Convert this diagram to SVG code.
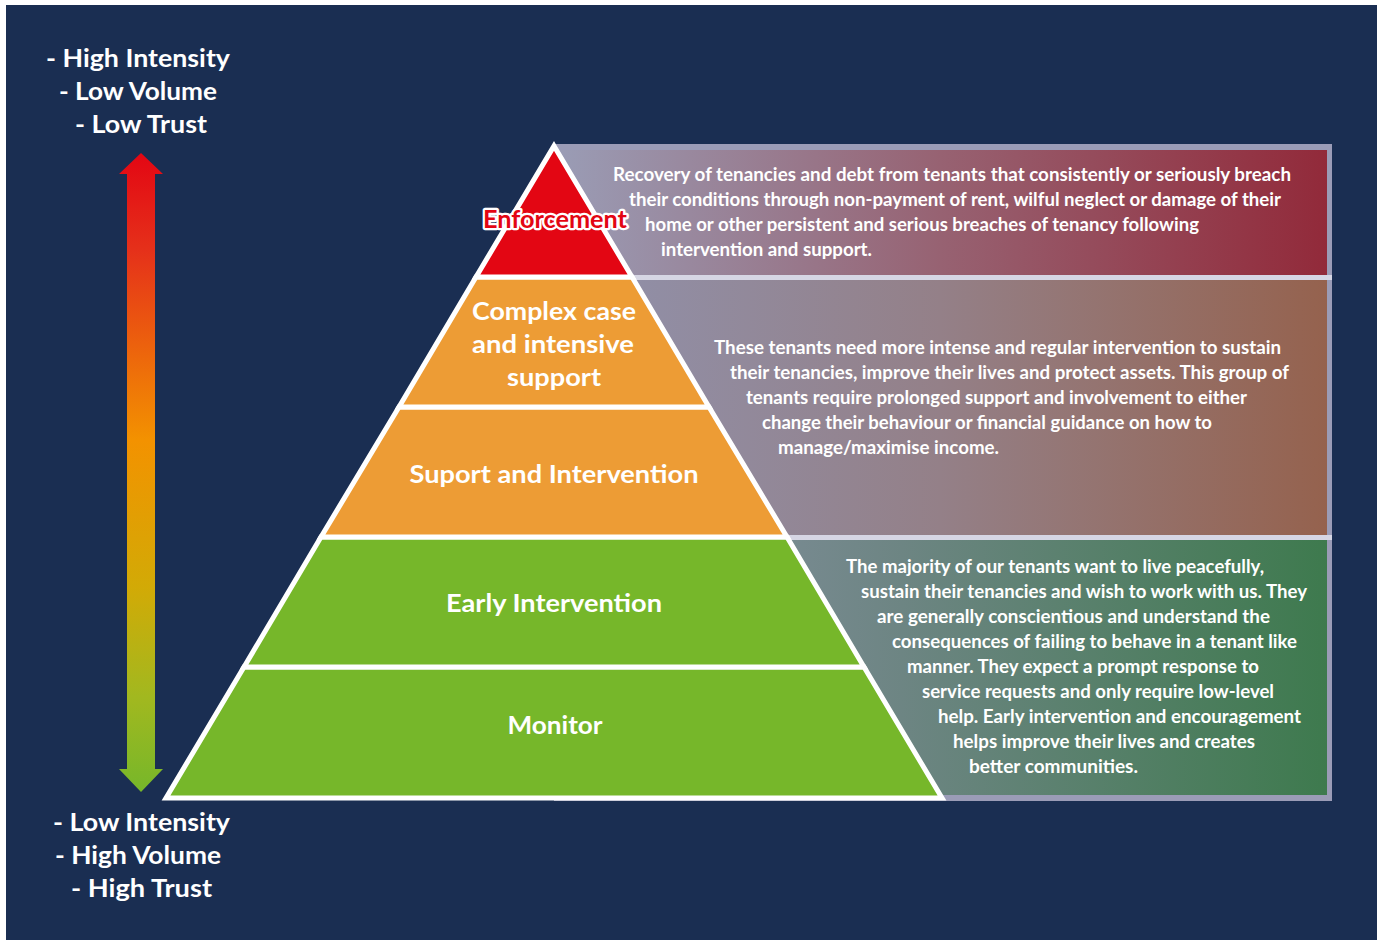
<svg xmlns="http://www.w3.org/2000/svg" width="1383" height="940" viewBox="0 0 1383 940">
  <defs>
    <linearGradient id="gArrow" gradientUnits="userSpaceOnUse" x1="0" y1="153" x2="0" y2="792">
      <stop offset="0" stop-color="#e30613"/>
      <stop offset="0.15" stop-color="#e5301a"/>
      <stop offset="0.45" stop-color="#f39200"/>
      <stop offset="0.68" stop-color="#d2aa06"/>
      <stop offset="0.85" stop-color="#a2b81f"/>
      <stop offset="1" stop-color="#76b72a"/>
    </linearGradient>
    <linearGradient id="gRed" gradientUnits="userSpaceOnUse" x1="554" y1="0" x2="1327" y2="0">
      <stop offset="0" stop-color="#9a9db6"/>
      <stop offset="0.5" stop-color="#976272"/>
      <stop offset="1" stop-color="#922a3a"/>
    </linearGradient>
    <linearGradient id="gOrange" gradientUnits="userSpaceOnUse" x1="554" y1="0" x2="1327" y2="0">
      <stop offset="0" stop-color="#9092ad"/>
      <stop offset="0.5" stop-color="#948088"/>
      <stop offset="1" stop-color="#95624e"/>
    </linearGradient>
    <linearGradient id="gGreen" gradientUnits="userSpaceOnUse" x1="554" y1="0" x2="1327" y2="0">
      <stop offset="0" stop-color="#8c93aa"/>
      <stop offset="0.45" stop-color="#6d8583"/>
      <stop offset="1" stop-color="#3e7a4e"/>
    </linearGradient>
    <style>
      .lbl { font-family: Lato, "Liberation Sans", sans-serif; font-weight: bold; fill: #ffffff; font-size: 25px; }
      .tier { stroke: #ffffff; stroke-width: 5; stroke-linejoin: miter; }
      .tl { font-family: Lato, "Liberation Sans", sans-serif; font-weight: bold; fill: #ffffff; font-size: 25px; text-anchor: middle; }
      .para { font-family: Lato, "Liberation Sans", sans-serif; font-weight: bold; fill: #ffffff; font-size: 18px; }
      .enf { font-family: Lato, "Liberation Sans", sans-serif; font-weight: bold; font-size: 24px; text-anchor: middle; }
    </style>
  </defs>

  <rect x="0" y="0" width="1383" height="940" fill="#ffffff"/>
  <rect id="background" x="6" y="5" width="1371" height="935" fill="#1a2e52"/>

  <g id="scale-top">
    <text class="lbl" x="46" y="67" textLength="184" lengthAdjust="spacingAndGlyphs">- High Intensity</text>
    <text class="lbl" x="59" y="100" textLength="158" lengthAdjust="spacingAndGlyphs">- Low Volume</text>
    <text class="lbl" x="75" y="133" textLength="132" lengthAdjust="spacingAndGlyphs">- Low Trust</text>
  </g>
  <g id="scale-bottom">
    <text class="lbl" x="53" y="831" textLength="177" lengthAdjust="spacingAndGlyphs">- Low Intensity</text>
    <text class="lbl" x="55" y="864" textLength="166" lengthAdjust="spacingAndGlyphs">- High Volume</text>
    <text class="lbl" x="71" y="897" textLength="141" lengthAdjust="spacingAndGlyphs">- High Trust</text>
  </g>

  <g id="connectors">
    <polygon id="scale-arrow" fill="url(#gArrow)" points="141,153 163,174 155,174 155,769 163,769 141,792 119,769 127,769 127,174 119,174"/>
  </g>

  <g id="description-panel">
    <rect x="554" y="144" width="778" height="657" fill="#9b9cb7"/>
    <rect x="554" y="150" width="773" height="125" fill="url(#gRed)"/>
    <rect x="554" y="275" width="778" height="5" fill="#d6d6e4"/>
    <rect x="554" y="280" width="773" height="255" fill="url(#gOrange)"/>
    <rect x="554" y="535" width="778" height="5" fill="#d6d6e4"/>
    <rect x="554" y="540" width="773" height="255" fill="url(#gGreen)"/>
  </g>

  <g id="tier-monitor">
    <polygon class="tier" fill="#76b72a" points="244,667 864,667 942,798 166,798"/>
    <text class="tl" x="555" y="734" textLength="95" lengthAdjust="spacingAndGlyphs">Monitor</text>
  </g>
  <g id="tier-early-intervention">
    <polygon class="tier" fill="#76b72a" points="321,537 787,537 864,667 244,667"/>
    <text class="tl" x="554" y="612" textLength="216" lengthAdjust="spacingAndGlyphs">Early Intervention</text>
  </g>
  <g id="tier-support-intervention">
    <polygon class="tier" fill="#ed9c35" points="399,407 709,407 787,537 321,537"/>
    <text class="tl" x="554" y="483" textLength="289" lengthAdjust="spacingAndGlyphs">Suport and Intervention</text>
  </g>
  <g id="tier-complex-case">
    <polygon class="tier" fill="#ed9c35" points="476,277 632,277 709,407 399,407"/>
    <text class="tl" x="554" y="320" textLength="164" lengthAdjust="spacingAndGlyphs">Complex case</text>
    <text class="tl" x="553" y="353" textLength="162" lengthAdjust="spacingAndGlyphs">and intensive</text>
    <text class="tl" x="554" y="386" textLength="94" lengthAdjust="spacingAndGlyphs">support</text>
  </g>
  <g id="tier-enforcement">
    <polygon class="tier" fill="#e30613" points="554,146 632,277 476,277"/>
    <text class="enf" x="555" y="228" textLength="144" lengthAdjust="spacingAndGlyphs" fill="#ffffff" stroke="#ffffff" stroke-width="4.5" stroke-linejoin="round">Enforcement</text>
    <text class="enf" x="555" y="228" textLength="144" lengthAdjust="spacingAndGlyphs" fill="#e30613">Enforcement</text>
  </g>

  <g id="text-enforcement">
    <text class="para" x="613" y="181" textLength="678" lengthAdjust="spacingAndGlyphs">Recovery of tenancies and debt from tenants that consistently or seriously breach</text>
    <text class="para" x="629" y="206" textLength="652" lengthAdjust="spacingAndGlyphs">their conditions through non-payment of rent, wilful neglect or damage of their</text>
    <text class="para" x="645" y="231" textLength="554" lengthAdjust="spacingAndGlyphs">home or other persistent and serious breaches of tenancy following</text>
    <text class="para" x="661" y="256" textLength="211" lengthAdjust="spacingAndGlyphs">intervention and support.</text>
  </g>
  <g id="text-complex">
    <text class="para" x="714" y="354" textLength="567" lengthAdjust="spacingAndGlyphs">These tenants need more intense and regular intervention to sustain</text>
    <text class="para" x="730" y="379" textLength="559" lengthAdjust="spacingAndGlyphs">their tenancies, improve their lives and protect assets. This group of</text>
    <text class="para" x="746" y="404" textLength="501" lengthAdjust="spacingAndGlyphs">tenants require prolonged support and involvement to either</text>
    <text class="para" x="762" y="429" textLength="450" lengthAdjust="spacingAndGlyphs">change their behaviour or financial guidance on how to</text>
    <text class="para" x="778" y="454" textLength="221" lengthAdjust="spacingAndGlyphs">manage/maximise income.</text>
  </g>
  <g id="text-majority">
    <text class="para" x="846" y="573" textLength="418" lengthAdjust="spacingAndGlyphs">The majority of our tenants want to live peacefully,</text>
    <text class="para" x="861" y="598" textLength="446" lengthAdjust="spacingAndGlyphs">sustain their tenancies and wish to work with us. They</text>
    <text class="para" x="877" y="623" textLength="393" lengthAdjust="spacingAndGlyphs">are generally conscientious and understand the</text>
    <text class="para" x="892" y="648" textLength="405" lengthAdjust="spacingAndGlyphs">consequences of failing to behave in a tenant like</text>
    <text class="para" x="907" y="673" textLength="352" lengthAdjust="spacingAndGlyphs">manner. They expect a prompt response to</text>
    <text class="para" x="922" y="698" textLength="352" lengthAdjust="spacingAndGlyphs">service requests and only require low-level</text>
    <text class="para" x="938" y="723" textLength="363" lengthAdjust="spacingAndGlyphs">help. Early intervention and encouragement</text>
    <text class="para" x="953" y="748" textLength="302" lengthAdjust="spacingAndGlyphs">helps improve their lives and creates</text>
    <text class="para" x="969" y="773" textLength="169" lengthAdjust="spacingAndGlyphs">better communities.</text>
  </g>
</svg>
